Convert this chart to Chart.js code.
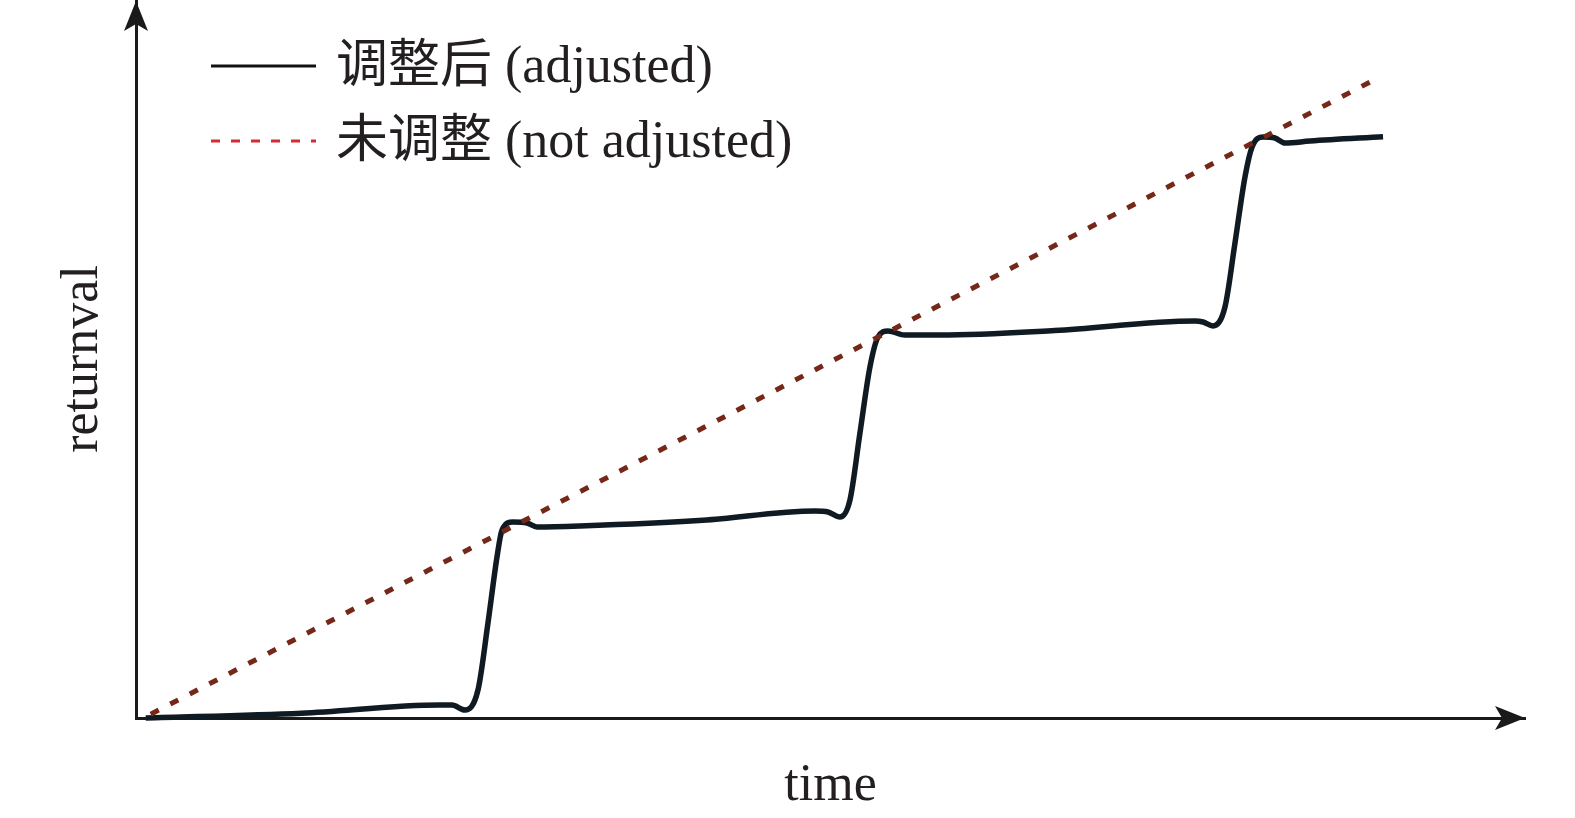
<!DOCTYPE html>
<html>
<head>
<meta charset="utf-8">
<script src="https://cdn.jsdelivr.net/npm/chart.js@4"></script>
<style>
  html, body { margin: 0; padding: 0; background: #fff; }
  #wrap { width: 1575px; height: 818px; }
</style>
</head>
<body>
<div id="wrap"><canvas id="myChart" width="1575" height="818"></canvas></div>
<script>
const seriesLabels = ['调整后 (adjusted)', '未调整 (not adjusted)'];
const axisTitles = { x: 'time', y: 'returnval' };

// adjusted: stepwise curve (time, returnval)
const adjustedT = [0.7, 11.9, 21.89, 22.75, 23.69, 24.62, 25.34, 25.99, 26.35, 27.14, 28.15, 28.87, 31.97, 40.82,
    48.88, 49.82, 50.68, 51.4, 52.12, 52.84, 53.42, 54.14, 55.36, 57.88, 66.14,
    76.24, 76.82, 77.54, 78.4, 79.12, 79.84, 80.35, 81.14, 82.0, 82.72, 84.52, 89.78];
const adjustedV = [0.0, 0.67, 1.81, 1.81, 1.11, 3.9, 13.23, 22.42, 26.18, 27.3, 27.16, 26.6, 26.74, 27.53,
    28.83, 28.69, 27.99, 30.36, 39.69, 48.89, 53.06, 53.9, 53.34, 53.34, 53.97,
    55.29, 55.15, 54.6, 57.24, 66.16, 75.35, 79.53, 80.92, 80.78, 80.08, 80.36, 80.97];

// not adjusted: straight rising line
const notAdjustedT = [1.06, 89.64];
const notAdjustedV = [0.53, 89.37];

const toPoints = (xs, ys) => xs.map((x, i) => ({ x: x, y: ys[i] }));

const serif = "'Liberation Serif', 'Times New Roman', 'Noto Sans CJK SC', serif";
const ink = '#231f20';

const legendStyles = [
    { color: '#111111', dash: [], width: 3 },
    { color: '#d52b33', dash: [9, 11], width: 3 }
];

const decorPlugin = {
    id: 'decor',
    afterDraw(chart) {
        const ctx = chart.ctx;
        const area = chart.chartArea;
        ctx.save();
        ctx.fillStyle = '#1a1a1a';
        // arrow on y axis
        ctx.beginPath();
        ctx.moveTo(area.left, 1);
        ctx.lineTo(area.left - 12, 31);
        ctx.lineTo(area.left, 24);
        ctx.lineTo(area.left + 12, 31);
        ctx.closePath();
        ctx.fill();
        // arrow on x axis
        ctx.beginPath();
        ctx.moveTo(area.right, area.bottom);
        ctx.lineTo(area.right - 30, area.bottom - 12);
        ctx.lineTo(area.right - 23, area.bottom);
        ctx.lineTo(area.right - 30, area.bottom + 12);
        ctx.closePath();
        ctx.fill();

        // legend
        ctx.font = '52px ' + serif;
        ctx.textBaseline = 'middle';
        ctx.textAlign = 'left';
        seriesLabels.forEach((label, i) => {
            const y = 66 + i * 75;
            const st = legendStyles[i];
            ctx.strokeStyle = st.color;
            ctx.lineWidth = st.width;
            ctx.setLineDash(st.dash);
            ctx.beginPath();
            ctx.moveTo(211, y);
            ctx.lineTo(316, y);
            ctx.stroke();
            ctx.setLineDash([]);
            ctx.fillStyle = ink;
            ctx.fillText(label, 336, y + 2);
        });
        ctx.restore();
    }
};

const ctx = document.getElementById('myChart').getContext('2d');
const myChart = new Chart(ctx, {
    type: 'line',
    data: {
        datasets: [
            {
                label: seriesLabels[0],
                data: toPoints(adjustedT, adjustedV),
                borderColor: '#101a22',
                borderWidth: 5.5,
                pointRadius: 0,
                cubicInterpolationMode: 'monotone',
                clip: false,
                order: 1
            },
            {
                label: seriesLabels[1],
                data: toPoints(notAdjustedT, notAdjustedV),
                borderColor: '#762818',
                borderWidth: 5,
                borderDash: [9, 13],
                pointRadius: 0,
                clip: false,
                order: 0
            }
        ]
    },
    options: {
        responsive: false,
        animation: false,
        devicePixelRatio: 1,
        layout: { padding: { left: 0, top: 0, right: 50, bottom: 0 } },
        plugins: {
            legend: { display: false },
            tooltip: { enabled: false }
        },
        scales: {
            x: {
                type: 'linear',
                min: 0,
                max: 100,
                grid: { display: false },
                border: { display: true, color: '#1a1a1a', width: 3 },
                ticks: { display: false },
                title: {
                    display: true,
                    text: axisTitles.x,
                    color: ink,
                    font: { family: serif, size: 52 },
                    padding: { top: 0, bottom: 0 }
                },
                afterFit(scale) { scale.height = 100; }
            },
            y: {
                type: 'linear',
                min: 0,
                max: 100,
                grid: { display: false },
                border: { display: true, color: '#1a1a1a', width: 3 },
                ticks: { display: false },
                title: {
                    display: true,
                    text: axisTitles.y,
                    color: ink,
                    font: { family: serif, size: 52 },
                    padding: { top: 52, bottom: 0 }
                },
                afterFit(scale) { scale.width = 136; }
            }
        }
    },
    plugins: [decorPlugin]
});
</script>
</body>
</html>
